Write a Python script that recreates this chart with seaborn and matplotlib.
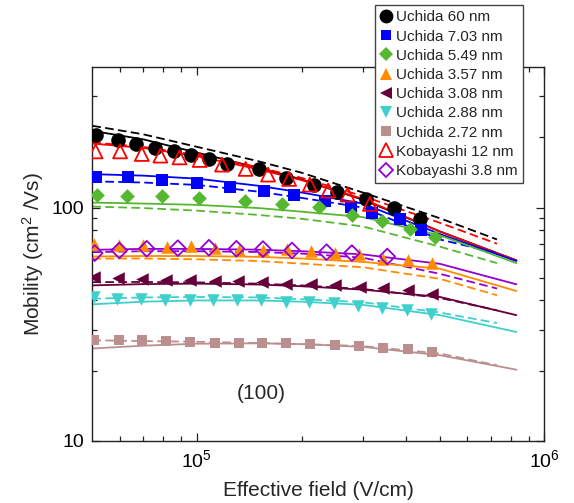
import matplotlib
matplotlib.use("Agg")
import matplotlib.pyplot as plt
import seaborn as sns
from matplotlib.lines import Line2D
from matplotlib.ticker import FixedLocator, NullFormatter

# ---------------- data ----------------
x_u60 = [5.11e4, 5.92e4, 6.68e4, 7.58e4, 8.57e4, 9.63e4, 1.083e5, 1.224e5, 1.506e5, 1.81e5, 2.175e5, 2.531e5, 3.061e5, 3.686e5, 4.385e5]
y_u60 = [205, 194.6, 187, 180, 174, 168.5, 160.7, 153.7, 145.8, 134, 125.4, 117, 108.9, 99.3, 89.5]

x_u703 = [5.13e4, 6.32e4, 7.95e4, 1.003e5, 1.245e5, 1.555e5, 1.904e5, 2.339e5, 2.773e5, 3.182e5, 3.83e5, 4.423e5]
y_u703 = [135.7, 135.7, 131.8, 127.5, 122.9, 118.2, 113.6, 107.1, 100.3, 94.9, 88.9, 80.5]

x_u549 = [5.15e4, 6.29e4, 7.95e4, 1.013e5, 1.378e5, 1.762e5, 2.247e5, 2.79e5, 3.414e5, 4.102e5, 4.845e5]
y_u549 = [113.6, 112.5, 111.7, 110, 106.8, 103.7, 101, 93.3, 87.4, 81.1, 74.7]

x_u357 = [5.07e4, 5.95e4, 6.98e4, 8.2e4, 9.6e4, 1.13e5, 1.32e5, 1.55e5, 1.82e5, 2.13e5, 2.5e5, 2.93e5, 3.44e5, 4.04e5, 4.74e5]
y_u357 = [70, 68.8, 68.8, 67.6, 68.1, 67.3, 65.5, 66, 66.6, 65.1, 63.8, 63.5, 60.4, 59.4, 57.8]

x_u308 = [5.04e4, 5.92e4, 6.96e4, 8.16e4, 9.53e4, 1.125e5, 1.313e5, 1.543e5, 1.81e5, 2.135e5, 2.49e5, 2.95e5, 3.44e5, 4.04e5, 4.74e5]
y_u308 = [50.4, 49.9, 49.2, 48.7, 48.7, 48.4, 48.4, 47.9, 47.2, 46.9, 46.8, 45.7, 45, 44.2, 42.8]

x_u288 = [5.04e4, 5.88e4, 6.91e4, 8.12e4, 9.53e4, 1.112e5, 1.307e5, 1.533e5, 1.8e5, 2.1e5, 2.48e5, 2.91e5, 3.41e5, 4.01e5, 4.71e5]
y_u288 = [41.4, 40.7, 40.7, 40.3, 40.05, 40.05, 40.05, 40.05, 39.4, 39.4, 39.0, 37.9, 37.3, 36.3, 35.1]

x_u272 = [5.07e4, 5.95e4, 6.96e4, 8.16e4, 9.53e4, 1.125e5, 1.32e5, 1.54e5, 1.81e5, 2.11e5, 2.49e5, 2.93e5, 3.44e5, 4.04e5, 4.74e5]
y_u272 = [27.0, 27.0, 27.0, 26.8, 26.6, 26.4, 26.2, 26.3, 26.2, 26.0, 25.7, 25.4, 25.0, 24.7, 24.1]

x_k12 = [5.11e4, 6.01e4, 6.94e4, 7.85e4, 8.91e4, 1.018e5, 1.181e5, 1.381e5, 1.602e5, 1.842e5, 2.112e5, 2.386e5, 2.713e5, 3.145e5]
y_k12 = [174, 174, 169.6, 166.9, 164, 159.9, 152.7, 146.4, 138.4, 132.6, 125.4, 118.2, 113.6, 103.7]

x_k38 = [5.08e4, 5.98e4, 7.17e4, 8.81e4, 1.083e5, 1.299e5, 1.549e5, 1.877e5, 2.36e5, 2.791e5, 3.528e5]
y_k38 = [63.8, 65.5, 66.6, 67, 67.3, 66.6, 66.4, 65.5, 64.4, 63.8, 61.7]

# simulation curves (solid / dashed)
x_solid = [5e4, 7e4, 1e5, 1.5e5, 2e5, 3e5, 5e5, 8.3e5]
x_dash = [5e4, 7e4, 1e5, 1.5e5, 2e5, 3e5, 5e5, 7.3e5]

s_black = [213, 196, 172, 148, 132, 108, 79, 59.4]
d_black = [224, 206, 182, 158, 141, 116, 90, 73]
s_red = [188, 180, 166, 146, 131, 109, 79, 59.4]
d_red = [190, 182, 168, 149, 134, 112, 86, 70]
s_blue = [139, 137, 133, 124, 116, 104, 77, 59]
d_blue = [129.5, 128, 125, 117, 110, 100, 73, 63.8]
s_green = [105, 104, 102.7, 99.5, 96, 91, 76, 57.8]
d_green = [101, 99.5, 97, 93, 89.5, 83, 68, 57.8]
s_purple = [65.9, 66.5, 66.5, 66, 65, 63, 57.4, 46.9]
d_purple = [64.4, 65, 65, 64.5, 63.5, 61, 52, 45]
s_orange = [61.7, 62, 62, 61.5, 60.5, 58.5, 54.7, 43.9]
d_orange = [60.4, 60.5, 60, 59, 57.5, 55.5, 49.5, 42.1]
s_maroon = [46.4, 47, 47.2, 46.8, 46, 44.5, 41.4, 34.6]
d_maroon = [47.9, 48, 47.8, 47.2, 46.4, 44.8, 41.0, 36.3]
s_cyan = [38.5, 39.5, 40, 40, 39.5, 38.3, 34.6, 29.3]
d_cyan = [40.7, 41.2, 41.4, 41.2, 40.5, 39.3, 35.5, 32.0]
s_rosy = [24.9, 25.6, 26.1, 26.2, 26, 25.3, 23.3, 20.2]
d_rosy = [27, 26.8, 26.6, 26.3, 26, 25.5, 23.7, 21.1]

labels = ["Uchida 60 nm", "Uchida 7.03 nm", "Uchida 5.49 nm", "Uchida 3.57 nm",
          "Uchida 3.08 nm", "Uchida 2.88 nm", "Uchida 2.72 nm",
          "Kobayashi 12 nm", "Kobayashi 3.8 nm"]

# ---------------- styling ----------------
C_BLACK = "#000000"
C_BLUE = "#0000ff"
C_GREEN = "#55b830"
C_ORANGE = "#ff8c00"
C_MAROON = "#66003a"
C_CYAN = "#40d0cc"
C_ROSY = "#bc8f8f"
C_RED = "#ff0000"
C_PURPLE = "#9400d3"

sns.set_style("ticks")
plt.rcParams["font.family"] = ["Liberation Sans", "DejaVu Sans"]
plt.rcParams["mathtext.fontset"] = "custom"
plt.rcParams["mathtext.rm"] = "Liberation Sans"
plt.rcParams["mathtext.it"] = "Liberation Sans:italic"

fig = plt.figure(figsize=(5.74, 5.03), dpi=100)
ax = fig.add_axes([0.1608, 0.1233, 0.7878, 0.7435])
ax.set_xscale("log")
ax.set_yscale("log")

LW = 1.3
DASH = (4.8, 2.4)

curves = [
    (s_black, d_black, C_BLACK), (s_red, d_red, C_RED), (s_blue, d_blue, C_BLUE),
    (s_green, d_green, C_GREEN), (s_purple, d_purple, C_PURPLE), (s_orange, d_orange, C_ORANGE),
    (s_maroon, d_maroon, C_MAROON), (s_cyan, d_cyan, C_CYAN), (s_rosy, d_rosy, C_ROSY),
]
for s, d, c in curves:
    sns.lineplot(x=x_solid, y=s, color=c, lw=LW, ax=ax, estimator=None, sort=False, zorder=2)
    sns.lineplot(x=x_dash, y=d, color=c, lw=LW, ax=ax, estimator=None, sort=False, zorder=2)
    ax.lines[-1].set_dashes(DASH)

# markers: (x, y, marker, color, size, filled)
markers = [
    (x_u60, y_u60, "o", C_BLACK, 10.5, True),
    (x_u703, y_u703, "s", C_BLUE, 8.0, True),
    (x_u549, y_u549, "D", C_GREEN, 7.5, True),
    (x_u357, y_u357, "^", C_ORANGE, 9.0, True),
    (x_u308, y_u308, "<", C_MAROON, 9.0, True),
    (x_u288, y_u288, "v", C_CYAN, 9.0, True),
    (x_u272, y_u272, "s", C_ROSY, 7.5, True),
    (x_k12, y_k12, "^", C_RED, 10.0, False),
    (x_k38, y_k38, "D", C_PURPLE, 8.0, False),
]
handles = []
for (xs, ys, m, c, ms, filled), lab in zip(markers, labels):
    if filled:
        sns.scatterplot(x=xs, y=ys, marker=m, s=ms ** 2, color=c, edgecolor=c,
                        linewidth=0, ax=ax, zorder=3)
        h = Line2D([], [], ls="none", marker=m, markersize=ms * 0.95, color=c,
                   markeredgewidth=0)
    else:
        sns.scatterplot(x=xs, y=ys, marker=m, s=ms ** 2, facecolor="none", edgecolor=c,
                        linewidth=1.3, ax=ax, zorder=3)
        h = Line2D([], [], ls="none", marker=m, markersize=ms * 0.95, markerfacecolor="none",
                   markeredgecolor=c, markeredgewidth=1.3)
    handles.append(h)

ax.set_xlim(5e4, 1e6)
ax.set_ylim(10, 400)

ax.xaxis.set_major_locator(FixedLocator([1e5, 1e6]))
ax.set_xticklabels([r"$10^5$", r"$10^6$"])
ax.xaxis.set_minor_locator(FixedLocator([6e4, 7e4, 8e4, 9e4, 2e5, 3e5, 4e5, 5e5, 6e5, 7e5, 8e5, 9e5]))
ax.xaxis.set_minor_formatter(NullFormatter())
ax.yaxis.set_major_locator(FixedLocator([10, 100]))
ax.set_yticklabels(["10", "100"])
ax.yaxis.set_minor_locator(FixedLocator([20, 30, 40, 50, 60, 70, 80, 90, 200, 300]))
ax.yaxis.set_minor_formatter(NullFormatter())

ax.tick_params(which="both", direction="in", top=True, right=True, colors="#222222",
               labelcolor="black", labelsize=14, width=0.9)
ax.tick_params(which="major", length=6, pad=6)
ax.tick_params(which="minor", length=3.5)
for sp in ax.spines.values():
    sp.set_color("#222222")
    sp.set_linewidth(1.0)

ax.set_xlabel("Effective field (V/cm)", fontsize=15, labelpad=7)
ax.set_ylabel(r"Mobility (cm$^2$ /Vs)", fontsize=15, labelpad=4)

ax.text(0.373, 0.128, "(100)", transform=ax.transAxes, ha="center", va="center", fontsize=15)

leg = fig.legend(handles, labels, loc="upper left", bbox_to_anchor=(0.6533, 0.990),
                 fontsize=11, frameon=True, fancybox=False, framealpha=1,
                 edgecolor="#444444", handlelength=0.8, handletextpad=0.25,
                 labelspacing=0.34, borderpad=0.35, borderaxespad=0)
leg.get_frame().set_linewidth(1.0)

fig.savefig("out.png", dpi=100)
